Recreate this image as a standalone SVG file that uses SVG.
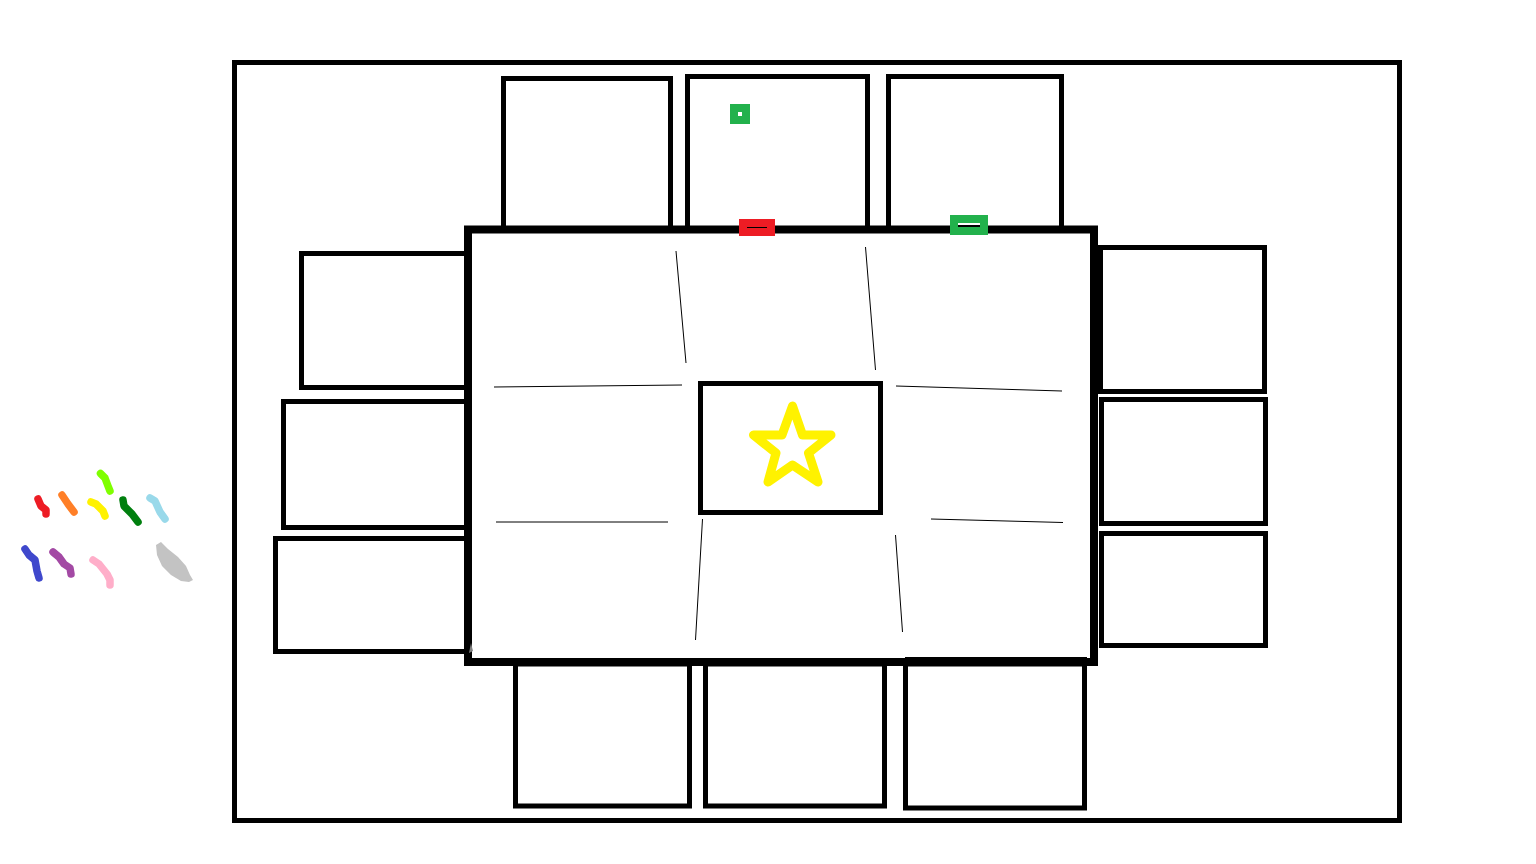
<svg xmlns="http://www.w3.org/2000/svg" width="1536" height="864" viewBox="0 0 1536 864">
<style>
.box{fill:none;stroke:#000;stroke-width:5}
.thick{fill:none;stroke:#000;stroke-width:8}
.thin{fill:none;stroke:#000;stroke-width:1}
.mark{fill:none;stroke-width:7.500;stroke-linecap:round;stroke-linejoin:round}
</style>
<rect width="1536" height="864" fill="#fff"/>
<g id="room"><rect class="box" x="234.500" y="62.500" width="1165" height="758"/></g>
<g id="seat-top-1"><rect class="box" x="503.500" y="78.500" width="167" height="152"/></g>
<g id="seat-top-2"><rect class="box" x="687.500" y="76.500" width="180" height="154"/></g>
<g id="seat-top-3"><rect class="box" x="888.500" y="76.500" width="173" height="154"/></g>
<g id="seat-left-1"><rect class="box" x="301.500" y="253.500" width="167" height="134"/></g>
<g id="seat-left-2"><rect class="box" x="283.500" y="401.500" width="186" height="126"/></g>
<g id="seat-left-3"><rect class="box" x="275.500" y="538.500" width="194" height="113"/></g>
<g id="seat-right-1"><rect class="box" x="1100.500" y="247.500" width="164" height="144"/></g>
<g id="seat-right-2"><rect class="box" x="1101.500" y="399.500" width="164" height="124"/></g>
<g id="seat-right-3"><rect class="box" x="1101.500" y="533.500" width="164" height="112"/></g>
<g id="seat-bottom-1"><rect class="box" x="515.500" y="664" width="174" height="142"/></g>
<g id="seat-bottom-2"><rect class="box" x="705.500" y="664" width="179" height="142"/></g>
<g id="seat-bottom-3"><rect class="box" x="905.500" y="664" width="179" height="144"/></g>
<g id="table"><rect class="thick" x="468" y="229.500" width="626" height="432.500"/>
<rect x="1096" y="247" width="7" height="147" fill="#000"/>
<rect x="905" y="657" width="182" height="2" fill="#000"/>
<rect x="468" y="495" width="4" height="30" fill="#000"/>
<path d="M471 643L473 651L469 653Z" fill="#7f7f7f"/></g>
<g id="connectors">
<path class="thin" d="M676 251L686 363M865.500 247L875.500 370M494 387L682 385M896 386L1062 391M496 522L668 522M931 519L1063 522.500M702.500 519L695.500 640M895.500 535L902.500 632"/>
</g>
<g id="center"><rect class="box" x="700.500" y="383.500" width="180" height="129"/></g>
<g id="star"><path d="M792.500 406L802.500 435L831 435L808.500 453L818 482L792.500 465L768 482L776 453L753.500 435L782 435Z" fill="none" stroke="#fff200" stroke-width="9" stroke-linejoin="round"/></g>
<g id="green-marker"><rect x="730" y="104" width="20" height="20" fill="#22b14c"/><rect x="738" y="112" width="4" height="4" fill="#fff"/></g>
<g id="red-marker"><rect x="739" y="219" width="36" height="17" fill="#ed1c24"/><rect x="747" y="227" width="20" height="1" fill="#000"/></g>
<g id="green-door"><rect x="950" y="215" width="38" height="20" fill="#22b14c"/><rect x="958" y="223" width="22" height="2" fill="#fff"/><rect x="958" y="225" width="22" height="2" fill="#000"/></g>
<g id="legend">
<path class="mark" stroke="#7fff00" d="M100.500 473.500L105 478L108 486L110 491"/>
<path class="mark" stroke="#ed1c24" d="M38 499L41 506L46 510L46 514"/>
<path class="mark" stroke="#ff7f27" d="M62 495L68 504L74 512"/>
<path class="mark" stroke="#fff200" d="M91 502L96 504L103 511L105 516"/>
<path class="mark" stroke="#007f0e" d="M123 500L124 506L132 514L138 522"/>
<path class="mark" stroke="#99d9ea" d="M150 498L155 501L160 512L165 519"/>
<path class="mark" stroke="#3f48cc" d="M25 549L29 555L35 560L37 571L39 578"/>
<path class="mark" stroke="#a349a4" d="M53 552L59 557L64 564L70 568L71 574"/>
<path class="mark" stroke="#ffaec9" d="M93 560L99 564L107 574L110 580L110 585"/>
<path id="smudge" fill="#c3c3c3" d="M156 545L161 542L168 549L178 557L186 566L190 575L193 580L189 582L181 581L171 575L162 566L157 555Z"/>
</g>
</svg>
